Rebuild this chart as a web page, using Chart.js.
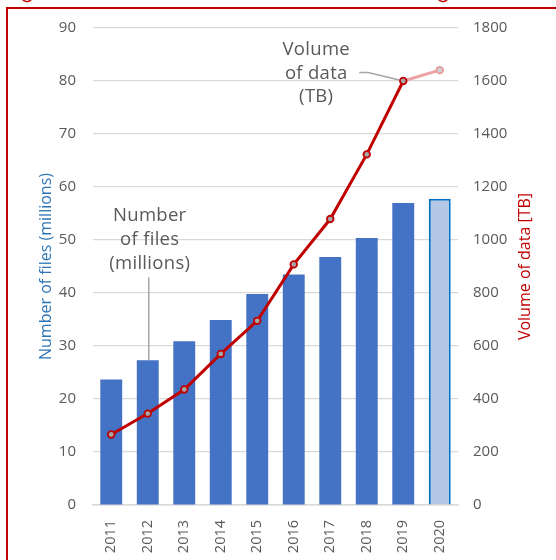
<!DOCTYPE html>
<html>
<head>
<meta charset="utf-8">
<script src="https://cdn.jsdelivr.net/npm/chart.js@4"></script>
<style>
  html, body { margin: 0; padding: 0; background: #fff; }
  #wrap { width: 556px; height: 560px; position: relative; }
</style>
</head>
<body>
<div id="wrap"><canvas id="filesChart" width="556" height="560"></canvas></div>
<script>
const years = ["2011", "2012", "2013", "2014", "2015", "2016", "2017", "2018", "2019", "2020"];
const filesMillions = [23.7, 27.3, 30.9, 34.9, 39.8, 43.5, 46.8, 50.4, 57.0, 57.8];
const volumeTB = [266, 345, 436, 570, 695, 908, 1079, 1323, 1600, 1641];
const filesLabel = ["Number", "of files", "(millions)"];
const volumeLabel = ["Volume", "of data", "(TB)"];
const volumeAxisTitle = "Volume of data [TB]";

const FONT = "'Open Sans', sans-serif";
const GREY_TEXT = "#595959";
const lastIdx = years.length - 1;

// the last year is an estimate, drawn in lighter colours
const barFill = years.map((y, i) => i === lastIdx ? "#b4c7e7" : "#4472c4");
const barEdge = years.map((y, i) => i === lastIdx ? "#0070c0" : "#4472c4");
const barEdgeWidth = years.map((y, i) => i === lastIdx ? 2 : 0);
const pointEdge = years.map((y, i) => i === lastIdx ? "#e89a9a" : "#c00000");
const pointFill = years.map((y, i) => i === lastIdx ? "#d0d0d0" : "#a6a6a6");

const frameAndNotes = {
    id: "frameAndNotes",
    afterDatasetsDraw(chart) {
        const ctx = chart.ctx;
        const x = chart.scales.x;
        const yL = chart.scales.y;
        const yR = chart.scales.y1;
        const area = chart.chartArea;

        ctx.save();
        ctx.font = "18.5px " + FONT;
        ctx.letterSpacing = "0.3px";
        ctx.fillStyle = GREY_TEXT;
        ctx.textAlign = "center";
        ctx.textBaseline = "middle";
        ctx.strokeStyle = "#a6a6a6";
        ctx.lineWidth = 1.5;

        // label pointing at the 2012 bar
        const bx = x.getPixelForValue(1);
        const by = yL.getPixelForValue(filesMillions[1]);
        filesLabel.forEach((t, k) => ctx.fillText(t, bx + 2, by - 145 + k * 24));
        ctx.beginPath();
        ctx.moveTo(bx + 1, by - 83);
        ctx.lineTo(bx + 1, by);
        ctx.stroke();

        // label pointing at the 2019 volume point
        const px = x.getPixelForValue(8);
        const py = yR.getPixelForValue(volumeTB[8]);
        volumeLabel.forEach((t, k) => ctx.fillText(t, px - 87, py - 31 + k * 23.5));
        ctx.beginPath();
        ctx.moveTo(px - 44, py - 8.5);
        ctx.lineTo(px - 35, py - 8.5);
        ctx.lineTo(px - 4, py - 1);
        ctx.stroke();
        ctx.letterSpacing = "0px";

        // right axis title, reading upwards like the left one
        ctx.save();
        ctx.translate(yR.right - 15, (area.top + area.bottom) / 2);
        ctx.rotate(-Math.PI / 2);
        ctx.font = "16px " + FONT;
        ctx.fillStyle = "#c00000";
        ctx.fillText(volumeAxisTitle, 0, 0);
        ctx.restore();

        // red frame around the figure
        ctx.strokeStyle = "#c00000";
        ctx.lineWidth = 2;
        ctx.strokeRect(7, 8, 600, 600);
        ctx.lineWidth = 1.5;
        [27, 443].forEach(cx => {
            ctx.beginPath();
            ctx.arc(cx, -4, 5.5, 0.15 * Math.PI, 0.85 * Math.PI);
            ctx.stroke();
        });
        ctx.restore();
    }
};

const tickFont = { family: FONT, size: 15 };

new Chart(document.getElementById("filesChart"), {
    data: {
        labels: years,
        datasets: [
            {
                type: "line",
                label: "Volume of data (TB)",
                data: volumeTB,
                yAxisID: "y1",
                order: 0,
                borderColor: "#c00000",
                borderWidth: 3,
                pointRadius: 3.3,
                pointBorderWidth: 1.8,
                pointBorderColor: pointEdge,
                pointBackgroundColor: pointFill,
                tension: 0,
                segment: {
                    borderColor: c => c.p1DataIndex === lastIdx ? "#eba3a3" : undefined
                }
            },
            {
                type: "bar",
                label: "Number of files (millions)",
                data: filesMillions,
                yAxisID: "y",
                order: 1,
                backgroundColor: barFill,
                borderColor: barEdge,
                borderWidth: barEdgeWidth,
                categoryPercentage: 1,
                barPercentage: 0.6
            }
        ]
    },
    options: {
        responsive: false,
        animation: false,
        layout: { padding: { left: 33, right: 16, top: 28, bottom: 0 } },
        plugins: {
            legend: { display: false },
            tooltip: { enabled: false }
        },
        scales: {
            x: {
                offset: true,
                grid: { display: false },
                border: { display: true, color: "#d9d9d9", width: 1.5 },
                ticks: {
                    color: GREY_TEXT,
                    font: { family: FONT, size: 14.5 },
                    autoSkip: false,
                    maxRotation: 90,
                    minRotation: 90,
                    padding: 7
                },
                afterFit: s => { s.height = 55; }
            },
            y: {
                position: "left",
                min: 0,
                max: 90,
                ticks: { stepSize: 10, color: GREY_TEXT, font: tickFont, padding: 17, callback: v => String(v) },
                grid: { color: "#d9d9d9", lineWidth: 1.2, drawTicks: false },
                border: { display: false },
                title: {
                    display: true,
                    text: "Number of files (millions)",
                    color: "#2e75b6",
                    font: { family: FONT, size: 16 }
                },
                afterFit: s => { s.width = 60; }
            },
            y1: {
                position: "right",
                min: 0,
                max: 1800,
                ticks: { stepSize: 200, color: GREY_TEXT, font: tickFont, padding: 15, callback: v => String(v) },
                grid: { drawOnChartArea: false, drawTicks: false },
                border: { display: false },
                afterFit: s => { s.width = 82; }
            }
        }
    },
    plugins: [frameAndNotes]
});
</script>
</body>
</html>
